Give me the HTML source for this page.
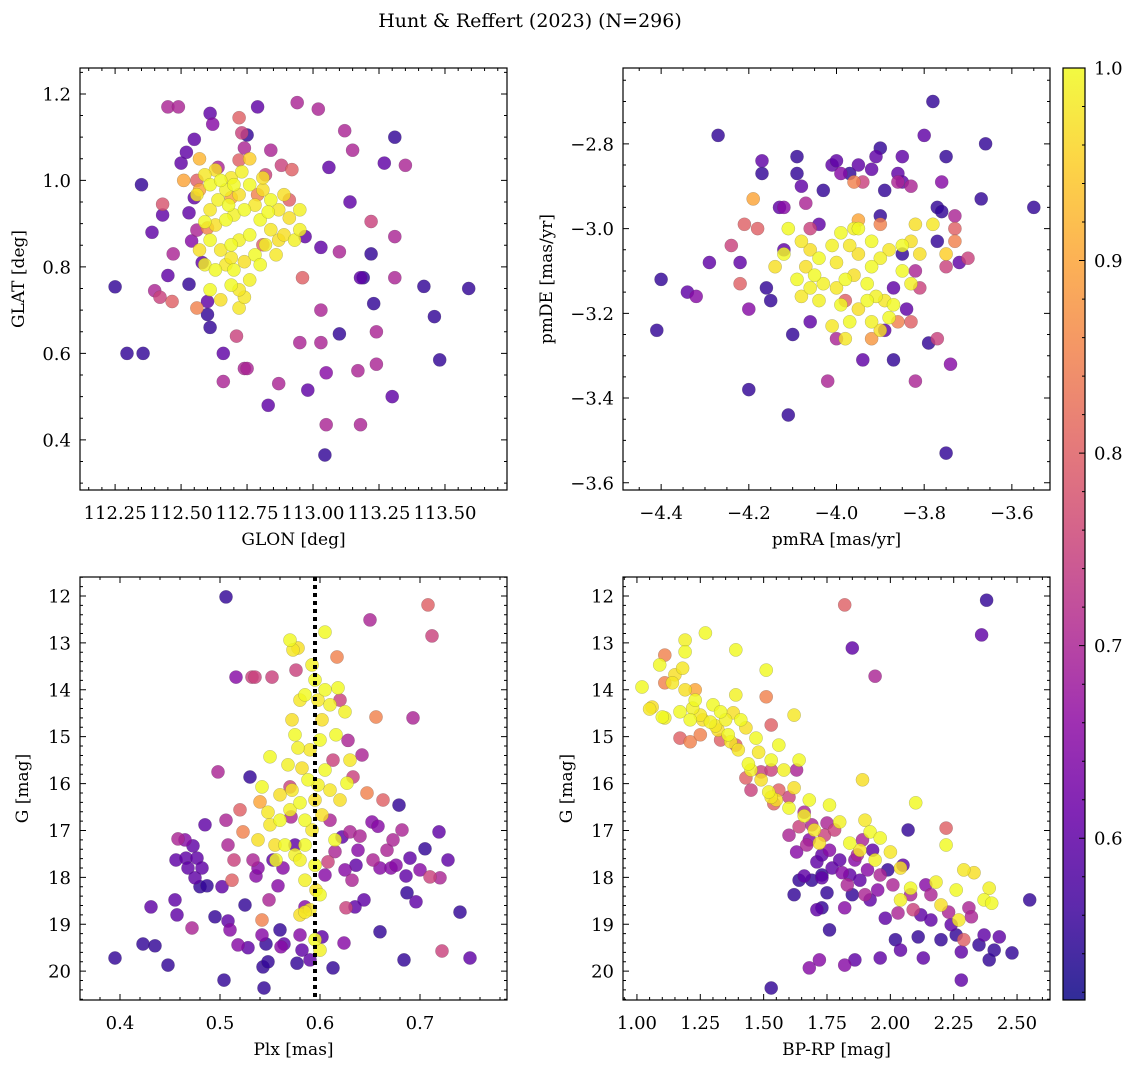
<!DOCTYPE html>
<html><head><meta charset="utf-8">
<style>
html,body{margin:0;padding:0;background:#fff;}
svg{display:block;font-family:"DejaVu Serif","Liberation Serif",serif;}
</style></head>
<body>
<svg id="fig" width="1136" height="1067" viewBox="0 0 1136 1067" xmlns="http://www.w3.org/2000/svg">
<defs>
<linearGradient id="plasmaGrad" x1="0" y1="1" x2="0" y2="0">
<stop offset="0" stop-color="#0d0887"/><stop offset="0.1" stop-color="#41049d"/><stop offset="0.2" stop-color="#6a00a8"/><stop offset="0.3" stop-color="#8f0da4"/><stop offset="0.4" stop-color="#b12a90"/><stop offset="0.5" stop-color="#cc4778"/><stop offset="0.6" stop-color="#e16462"/><stop offset="0.7" stop-color="#f2844b"/><stop offset="0.8" stop-color="#fca636"/><stop offset="0.9" stop-color="#fcce25"/><stop offset="1" stop-color="#f0f921"/>
</linearGradient>
</defs>
<text x="530" y="27" font-size="19" text-anchor="middle">Hunt &amp; Reffert (2023) (N=296)</text>
<g id="layer"></g>
</svg>
<script>
// ---- data ----
const skyPoints = [
[112.25,0.754,.55],[112.295,0.60,.55],[112.356,0.60,.55],[112.35,0.99,.55],[112.39,0.88,.6],[112.40,0.745,.7],[112.42,0.73,.75],[112.43,0.945,.78],[112.43,0.92,.6],[112.45,1.17,.7],[112.49,1.17,.7],[112.466,0.72,.8],[112.45,0.78,.6],[112.47,0.83,.7],[112.50,1.04,.6],[112.52,1.065,.6],[112.53,0.925,.6],[112.53,0.76,.55],[112.54,0.86,.65],[112.56,0.885,.7],[112.57,1.05,.92],[112.55,0.96,.6],[112.51,1.0,.9],[112.55,1.095,.6],[112.56,1.0,.8],[112.56,0.705,.85],[112.58,0.81,.6],[112.60,0.72,.6],[112.60,0.69,.55],[112.61,0.66,.55],[112.61,1.155,.6],[112.62,1.13,.65],[112.66,0.60,.6],[112.66,0.535,.7],[112.64,1.03,.7],[112.69,0.96,.9],[112.71,0.64,.75],[112.72,1.145,.8],[112.73,1.11,.75],[112.74,1.075,.7],[112.75,1.105,.55],[112.76,1.05,.95],[112.72,0.705,.98],[112.74,0.73,.98],[112.74,0.565,.7],[112.75,0.565,.7],[112.79,1.17,.6],[112.83,0.48,.6],[112.87,0.53,.7],[112.84,1.07,.7],[112.88,1.035,.75],[112.92,1.025,.8],[112.94,1.18,.7],[112.96,0.775,.8],[112.97,0.87,.6],[112.98,0.515,.6],[112.95,0.625,.7],[113.02,1.165,.7],[113.03,0.625,.7],[113.03,0.70,.7],[113.05,0.435,.7],[113.045,0.365,.55],[113.03,0.845,.6],[113.05,0.555,.65],[113.06,1.03,.6],[113.10,0.645,.55],[113.10,0.835,.7],[113.12,1.115,.7],[113.14,0.95,.6],[113.15,1.07,.7],[113.17,0.56,.7],[113.18,0.435,.7],[113.18,0.775,.6],[113.19,0.775,.55],[113.22,0.905,.75],[113.23,0.715,.55],[113.24,0.65,.7],[113.24,0.575,.7],[113.22,0.83,.55],[113.27,1.04,.6],[113.30,0.50,.6],[113.31,1.10,.55],[113.31,0.87,.7],[113.31,0.775,.7],[113.35,1.035,.7],[113.42,0.755,.55],[113.46,0.685,.55],[113.48,0.585,.55],[113.59,0.75,.55],
[112.57,0.978,.9],[112.60,0.89,.85],[112.79,0.967,.85],[112.81,0.851,.8],[112.91,0.955,.8],[112.82,1.013,.75],[112.72,1.047,.8],
[112.59,1.013,.98],[112.61,0.99,1],[112.63,1.024,.97],[112.65,1.0,1],[112.67,0.978,.99],[112.69,1.006,.98],[112.70,0.99,1],[112.72,0.967,.97],[112.68,0.943,1],[112.64,0.955,.99],[112.61,0.932,.98],[112.59,0.904,1],[112.63,0.897,.97],[112.67,0.909,1],[112.70,0.92,.99],[112.74,0.932,1],[112.78,0.943,.98],[112.81,0.978,.97],[112.84,0.955,1],[112.87,0.932,.98],[112.91,0.913,.97],[112.95,0.932,.99],[112.80,0.909,1],[112.84,0.886,.98],[112.87,0.862,.97],[112.76,0.874,1],[112.72,0.862,.99],[112.69,0.851,1],[112.65,0.839,.98],[112.61,0.862,1],[112.57,0.839,.97],[112.59,0.805,.99],[112.63,0.793,1],[112.67,0.805,.98],[112.70,0.793,1],[112.74,0.812,.97],[112.78,0.828,1],[112.82,0.851,.99],[112.86,0.828,.98],[112.89,0.874,.97],[112.93,0.862,.99],[112.69,0.758,1],[112.72,0.747,.98],[112.65,0.724,.97],[112.61,0.747,1],[112.76,0.77,.99],[112.80,0.805,1],[112.69,0.821,.98],[112.81,1.006,.97],[112.76,0.99,1],[112.73,1.02,.99],[112.56,0.967,.98],[112.83,0.927,1],[112.89,0.967,.97],[112.95,0.886,.99]
];
const pmPoints = [
[-4.27,-2.78,.55],[-4.40,-3.12,.55],[-4.41,-3.24,.55],[-4.34,-3.15,.6],[-4.32,-3.16,.65],[-4.29,-3.08,.6],[-4.24,-3.04,.75],[-4.22,-3.08,.6],[-4.22,-3.13,.8],[-4.21,-2.99,.8],[-4.20,-3.19,.65],[-4.19,-2.93,.9],[-4.18,-3.0,.8],[-4.17,-2.84,.6],[-4.17,-2.87,.55],[-4.16,-3.14,.55],[-4.15,-3.17,.55],[-4.13,-2.95,.6],[-4.12,-3.05,.6],[-4.12,-2.95,.65],[-4.20,-3.38,.55],[-4.10,-3.25,.55],[-4.11,-3.44,.55],[-4.09,-2.87,.55],[-4.09,-2.83,.55],[-4.08,-2.90,.6],[-4.07,-2.94,.7],[-4.06,-3.22,.6],[-4.06,-3.0,.75],[-4.04,-2.99,.6],[-4.03,-2.91,.55],[-4.02,-3.36,.7],[-4.01,-2.85,.6],[-4.00,-2.84,.6],[-3.99,-2.87,.65],[-4.0,-3.26,.7],[-3.97,-2.87,.55],[-3.96,-2.89,.85],[-3.95,-2.85,.6],[-3.94,-2.89,.75],[-3.94,-3.31,.6],[-3.92,-2.86,.6],[-3.91,-2.83,.6],[-3.90,-2.81,.55],[-3.90,-2.97,.55],[-3.89,-2.91,.55],[-3.89,-3.24,.6],[-3.87,-3.14,.6],[-3.87,-3.31,.55],[-3.86,-2.87,.6],[-3.86,-2.89,.7],[-3.85,-2.83,.6],[-3.85,-2.89,.6],[-3.85,-3.06,.55],[-3.84,-3.19,.6],[-3.83,-2.90,.7],[-3.82,-3.10,.7],[-3.82,-3.36,.7],[-3.81,-3.14,.75],[-3.80,-2.78,.6],[-3.79,-3.27,.55],[-3.78,-2.70,.55],[-3.77,-2.95,.55],[-3.77,-3.03,.55],[-3.77,-3.26,.75],[-3.76,-2.89,.65],[-3.76,-2.96,.55],[-3.75,-2.83,.55],[-3.75,-3.06,.95],[-3.75,-3.53,.55],[-3.75,-3.09,.75],[-3.74,-3.32,.65],[-3.73,-2.97,.7],[-3.73,-3.0,.8],[-3.72,-3.08,.6],[-3.70,-3.07,.75],[-3.66,-2.80,.55],[-3.67,-2.93,.55],[-3.55,-2.95,.55],[-3.73,-3.03,.85],
[-3.95,-2.98,.9],[-3.90,-2.99,.85],[-3.98,-3.17,.8],[-3.86,-3.22,.85],[-3.83,-3.22,.8],[-3.92,-3.26,.88],
[-4.11,-3.0,1],[-4.08,-3.03,.98],[-4.06,-3.05,.97],[-4.04,-3.07,1],[-4.01,-3.04,.99],[-3.99,-3.01,1],[-3.97,-3.04,.98],[-3.95,-3.06,.97],[-3.92,-3.09,1],[-3.90,-3.07,.99],[-3.88,-3.05,.98],[-3.85,-3.04,1],[-3.83,-3.03,.97],[-4.05,-3.11,1],[-4.03,-3.13,.99],[-4.0,-3.14,.98],[-3.98,-3.12,1],[-3.96,-3.11,.97],[-3.93,-3.13,1],[-3.91,-3.16,.99],[-3.89,-3.17,.98],[-3.87,-3.18,1],[-4.07,-3.09,.97],[-4.09,-3.12,1],[-4.08,-3.16,.98],[-4.04,-3.17,.99],[-3.99,-3.18,1],[-3.95,-3.19,.97],[-3.97,-3.22,1],[-4.01,-3.23,.98],[-3.92,-3.22,.99],[-3.90,-3.24,.97],[-3.88,-3.21,1],[-3.98,-3.26,.98],[-4.14,-3.09,.97],[-4.12,-3.06,1],[-3.96,-3.0,.99],[-3.92,-3.03,1],[-4.0,-3.08,.98],[-3.95,-3.0,1],[-4.06,-3.14,.99],[-3.93,-3.17,1],[-3.78,-2.99,.98],[-3.81,-3.06,.97],[-3.85,-3.10,1],[-3.83,-3.13,.99],[-3.82,-2.99,.97]
];
const plxPoints = [
[0.395,19.72,.55],[0.423,19.42,.55],[0.435,19.46,.55],[0.431,18.63,.6],[0.448,19.87,.55],[0.456,17.63,.6],[0.455,18.48,.6],[0.457,18.8,.6],[0.458,17.18,.7],[0.465,17.2,.65],[0.466,17.59,.6],[0.468,17.8,.6],[0.472,19.08,.7],[0.475,18.01,.6],[0.473,17.33,.6],[0.477,17.59,.6],[0.48,18.2,.55],[0.482,17.8,.6],[0.487,18.18,.55],[0.485,16.88,.6],[0.495,18.84,.55],[0.498,15.75,.7],[0.502,18.2,.6],[0.506,16.78,.7],[0.508,17.31,.7],[0.506,12.02,.55],[0.504,20.19,.55],[0.508,18.93,.6],[0.51,19.12,.65],[0.512,18.06,.8],[0.514,17.63,.75],[0.516,13.73,.65],[0.518,19.44,.65],[0.52,16.56,.8],[0.523,17.03,.85],[0.525,18.59,.55],[0.528,19.5,.6],[0.53,15.86,.55],[0.532,13.73,.75],[0.535,13.73,.75],[0.533,17.63,.7],[0.536,17.97,.65],[0.538,17.8,.65],[0.54,16.39,.9],[0.542,18.91,.85],[0.542,19.23,.65],[0.543,19.91,.55],[0.544,20.36,.55],[0.546,19.42,.55],[0.548,19.8,.55],[0.549,18.48,.7],[0.552,13.73,.75],[0.553,17.63,.6],[0.558,18.18,.65],[0.56,19.12,.55],[0.561,19.48,.65],[0.564,19.42,.6],[0.563,17.8,.65],[0.57,16.07,.75],[0.571,16.71,.7],[0.575,17.31,.6],[0.577,19.83,.55],[0.58,19.23,.65],[0.582,19.55,.6],[0.585,18.63,.65],[0.576,13.58,.75],[0.59,19.76,.6],[0.602,19.27,.6],[0.605,17.95,.65],[0.608,17.67,.75],[0.61,16.78,.7],[0.613,19.93,.55],[0.613,15.5,.75],[0.615,17.45,.7],[0.617,13.3,.85],[0.62,14.22,.75],[0.622,17.14,.6],[0.624,19.4,.65],[0.625,17.84,.65],[0.626,18.65,.75],[0.628,15.08,.7],[0.63,17.03,.7],[0.632,18.06,.7],[0.635,18.63,.6],[0.633,15.86,.75],[0.636,17.74,.6],[0.638,17.42,.65],[0.64,17.12,.7],[0.642,15.39,.7],[0.644,18.48,.6],[0.647,16.2,.85],[0.65,12.51,.7],[0.652,16.82,.65],[0.653,17.63,.7],[0.656,14.58,.85],[0.658,16.91,.65],[0.66,17.8,.65],[0.66,19.16,.55],[0.663,16.35,.8],[0.667,17.42,.7],[0.671,17.8,.65],[0.673,17.2,.7],[0.676,17.74,.65],[0.679,16.46,.55],[0.682,16.99,.7],[0.684,19.76,.55],[0.686,17.97,.6],[0.687,18.33,.55],[0.69,17.59,.6],[0.693,14.6,.7],[0.696,18.52,.6],[0.7,17.84,.65],[0.705,17.39,.55],[0.708,12.19,.8],[0.712,12.85,.75],[0.71,17.99,.75],[0.72,18.01,.7],[0.722,19.57,.75],[0.728,17.63,.6],[0.74,18.74,.55],[0.75,19.72,.6],[0.719,17.03,.6],
[0.57,12.94,1],[0.573,13.15,.98],[0.578,13.11,.97],[0.605,12.77,1],[0.592,13.47,.99],[0.585,14.11,1],[0.58,14.22,.98],[0.572,14.64,.97],[0.575,14.96,1],[0.578,15.24,.99],[0.595,13.79,1],[0.598,14.22,.98],[0.602,14.64,.97],[0.605,14.0,1],[0.61,14.32,.99],[0.60,15.07,1],[0.59,15.28,.98],[0.582,15.67,.97],[0.588,15.92,1],[0.598,16.03,.99],[0.605,15.71,1],[0.61,16.14,.98],[0.595,16.35,.97],[0.58,16.41,1],[0.57,16.56,.99],[0.56,16.78,1],[0.55,16.88,.98],[0.555,17.31,.97],[0.565,17.31,1],[0.575,17.52,.99],[0.585,17.31,1],[0.592,16.99,.98],[0.602,16.67,.97],[0.595,17.74,1],[0.585,18.06,.99],[0.60,18.37,1],[0.59,18.69,.98],[0.58,18.8,.97],[0.595,19.33,1],[0.60,19.55,.99],[0.542,16.07,1],[0.548,16.61,.98],[0.538,17.2,.97],[0.618,13.96,1],[0.625,14.47,.99],[0.616,14.96,1],[0.63,15.5,.98],[0.62,16.35,.97],[0.627,15.99,1],[0.568,15.6,.99],[0.55,15.43,1],[0.572,16.14,.98],[0.56,16.24,.97],[0.585,16.78,1],[0.58,17.63,.99],[0.556,17.63,1],[0.585,18.74,.98],[0.596,18.27,.97],[0.615,17.2,1]
];
const cmdPoints = [
[1.02,13.94,1],[1.05,14.41,.98],[1.06,14.37,.97],[1.10,14.58,1],[1.11,14.6,.99],[1.09,13.47,1],[1.14,13.85,.98],[1.15,13.68,.97],[1.17,14.47,1],[1.19,12.94,.99],[1.19,13.19,1],[1.18,13.54,.98],[1.19,14.0,.97],[1.21,14.64,1],[1.22,14.39,.99],[1.23,14.22,1],[1.25,14.54,.98],[1.26,14.64,.97],[1.27,12.79,1],[1.29,14.69,.99],[1.30,14.32,1],[1.31,14.77,.98],[1.32,14.86,.97],[1.33,14.47,1],[1.35,14.64,.99],[1.36,14.96,1],[1.37,15.11,.98],[1.38,14.49,.97],[1.39,13.15,1],[1.39,14.11,.99],[1.41,14.64,1],[1.40,15.28,.98],[1.43,14.81,.97],[1.44,15.58,1],[1.45,15.71,.99],[1.47,15.03,1],[1.48,15.33,.98],[1.49,15.92,.97],[1.51,13.58,1],[1.52,16.18,.99],[1.53,15.5,1],[1.53,16.29,.98],[1.55,16.35,.97],[1.56,15.18,1],[1.58,15.71,.99],[1.60,16.52,1],[1.62,14.54,.98],[1.62,16.09,.97],[1.64,15.5,1],[1.66,16.69,.99],[1.68,16.35,1],[1.70,16.99,.98],[1.72,17.27,.97],[1.76,16.46,1],[1.80,16.82,.99],[1.84,17.27,1],[1.88,17.42,.98],[1.89,15.92,.97],[1.92,17.03,1],[1.94,17.63,.99],[1.96,17.16,1],[2.00,17.46,.98],[2.04,17.8,.97],[2.10,16.41,1],[2.18,18.1,.99],[2.22,17.31,1],[2.29,17.84,.98],[2.33,17.9,.97],[2.37,18.48,1],[2.39,18.23,.99],[2.40,18.55,1],[2.27,18.91,.98],[2.20,18.59,.97],[2.26,18.27,1],[2.04,18.48,.99],[2.08,18.23,1],[1.90,16.78,.98],
[1.11,13.26,.85],[1.11,13.85,.85],[1.21,15.11,.85],[1.17,15.03,.8],[1.23,14.0,.9],[1.25,14.96,.85],[1.33,15.07,.8],[1.39,15.18,.8],[1.43,15.88,.8],[1.45,16.14,.75],[1.49,15.75,.75],[1.51,14.15,.85],[1.53,14.75,.8],[1.54,16.43,.8],[1.56,16.14,.8],[1.60,16.29,.75],[1.63,15.71,.7],[1.64,16.92,.75],[1.66,16.61,.7],[1.67,17.31,.7],[1.68,17.2,.65],[1.69,16.88,.7],[1.71,17.67,.6],[1.73,17.52,.6],[1.73,18.01,.6],[1.74,17.1,.75],[1.75,16.84,.7],[1.76,17.42,.65],[1.77,17.8,.6],[1.78,16.99,.75],[1.80,17.63,.6],[1.81,17.9,.65],[1.83,18.16,.7],[1.84,17.95,.6],[1.85,18.37,.55],[1.86,17.63,.65],[1.87,17.52,.7],[1.88,18.06,.6],[1.89,17.2,.7],[1.90,18.37,.7],[1.91,17.84,.65],[1.92,18.48,.6],[1.93,17.42,.6],[1.95,18.27,.65],[1.96,17.95,.7],[1.98,18.87,.6],[1.99,17.84,.55],[2.01,18.16,.7],[2.02,19.33,.55],[2.03,18.76,.7],[2.04,19.55,.6],[2.05,17.74,.6],[2.07,16.99,.55],[2.08,18.37,.7],[2.09,18.69,.75],[2.11,19.27,.55],[2.12,18.8,.6],[2.13,19.72,.6],[2.14,18.16,.65],[2.16,18.91,.6],[2.16,18.37,.7],[2.20,19.33,.55],[2.22,16.95,.8],[2.23,18.74,.7],[2.24,19.01,.6],[2.26,19.23,.55],[2.28,19.59,.6],[2.28,20.19,.6],[2.29,19.33,.8],[2.31,18.65,.7],[2.32,18.84,.7],[2.35,19.44,.55],[2.37,19.23,.6],[2.39,19.76,.55],[2.41,19.55,.55],[2.43,19.27,.6],[2.48,19.61,.55],[2.55,18.48,.55],[2.36,12.83,.6],[2.38,12.09,.55],[1.85,13.11,.6],[1.94,13.71,.7],[1.82,12.19,.8],[1.73,17.95,.55],[1.73,18.65,.55],[1.82,18.65,.65],[1.86,19.76,.6],[1.96,19.72,.6],[1.76,19.12,.55],[1.82,19.87,.65],[1.71,18.69,.6],[1.68,19.93,.65],[1.53,20.36,.55],[1.69,18.06,.55],[1.75,18.33,.55],[1.63,17.46,.65],[1.66,17.97,.6],[1.60,17.1,.7],[1.53,15.71,.75],[1.64,18.06,.55],[1.72,19.76,.65],[1.62,18.37,.55]
];
const plxRef = 0.595;
const xTicks1 = [112.25,112.50,112.75,113.00,113.25,113.50];
const xLabels1 = ["112.25","112.50","112.75","113.00","113.25","113.50"];
const yTicks1 = [0.4,0.6,0.8,1.0,1.2];
const yLabels1 = ["0.4","0.6","0.8","1.0","1.2"];
const xTicks2 = [-4.4,-4.2,-4.0,-3.8,-3.6];
const xLabels2 = ["\u22124.4","\u22124.2","\u22124.0","\u22123.8","\u22123.6"];
const yTicks2 = [-2.8,-3.0,-3.2,-3.4,-3.6];
const yLabels2 = ["\u22122.8","\u22123.0","\u22123.2","\u22123.4","\u22123.6"];
const xTicks3 = [0.4,0.5,0.6,0.7];
const xLabels3 = ["0.4","0.5","0.6","0.7"];
const gTicks = [12,13,14,15,16,17,18,19,20];
const gLabels = ["12","13","14","15","16","17","18","19","20"];
const xTicks4 = [1.00,1.25,1.50,1.75,2.00,2.25,2.50];
const xLabels4 = ["1.00","1.25","1.50","1.75","2.00","2.25","2.50"];
const cbTicks = [0.6,0.7,0.8,0.9,1.0];
const cbLabels = ["0.6","0.7","0.8","0.9","1.0"];

// ---- rendering ----
const NS = "http://www.w3.org/2000/svg";
const layer = document.getElementById("layer");
const cmin = 0.516, cmax = 1.0;
const TF = 18;
const stops = ["#0d0887","#41049d","#6a00a8","#8f0da4","#b12a90","#cc4778","#e16462","#f2844b","#fca636","#fcce25","#f0f921"];
function hex(h){return [parseInt(h.substr(1,2),16),parseInt(h.substr(3,2),16),parseInt(h.substr(5,2),16)];}
function plasma(v){
  let t=(v-cmin)/(cmax-cmin); t=Math.max(0,Math.min(1,t));
  const s=t*10, i=Math.min(9,Math.floor(s)), f=s-i;
  const a=hex(stops[i]), b=hex(stops[i+1]);
  return "rgb("+a.map((x,k)=>Math.round(x+(b[k]-x)*f)).join(",")+")";
}
function mk(tag, attrs, parent){
  const e=document.createElementNS(NS,tag);
  for(const k in attrs) e.setAttribute(k,attrs[k]);
  (parent||layer).appendChild(e); return e;
}
function panel(cfg){
  const g=mk("g",{});
  
  
  const {x0,x1,y0,y1,xmin,xmax,ymin,ymax}=cfg;
  const sx=v=>x0+(v-xmin)/(xmax-xmin)*(x1-x0);
  const sy=cfg.invertY ? (v=>y0+(v-ymin)/(ymax-ymin)*(y1-y0)) : (v=>y1-(v-ymin)/(ymax-ymin)*(y1-y0));
  const pts=cfg.points.slice().sort((a,b)=>a[2]-b[2]);
  const pg=mk("g",{},g);
  
  
  pts.forEach(p=>{
    const c=mk("circle",{cx:sx(p[0]).toFixed(1),cy:sy(p[1]).toFixed(1),r:6.6,fill:plasma(p[2]),"fill-opacity":0.82,stroke:"#444","stroke-opacity":0.35,"stroke-width":0.5},pg);
    
    
  });
  if(cfg.vline!==undefined){
    const l=mk("line",{x1:sx(cfg.vline),x2:sx(cfg.vline),y1:y0,y2:y1,stroke:"#000","stroke-width":4,"stroke-dasharray":"4,4"},g);
    
    
  }
  const fr=mk("rect",{x:x0,y:y0,width:x1-x0,height:y1-y0,fill:"none",stroke:"#000","stroke-width":1.2},g);
  
  
  let tp="";
  const eps=1e-9;
  for(let v=Math.ceil(xmin/cfg.xminor-eps)*cfg.xminor; v<=xmax+eps; v+=cfg.xminor){
    const X=sx(v); tp+=`M${X},${y1}v-3M${X},${y0}v3`;
  }
  for(let v=Math.ceil(ymin/cfg.yminor-eps)*cfg.yminor; v<=ymax+eps; v+=cfg.yminor){
    const Y=sy(v); tp+=`M${x0},${Y}h3M${x1},${Y}h-3`;
  }
  cfg.xticks.forEach(v=>{const X=sx(v); tp+=`M${X},${y1}v-6M${X},${y0}v6`;});
  cfg.yticks.forEach(v=>{const Y=sy(v); tp+=`M${x0},${Y}h6M${x1},${Y}h-6`;});
  const tk=mk("path",{d:tp,stroke:"#000","stroke-width":1,fill:"none"},g);
  
  
  cfg.xticks.forEach((v,i)=>{
    const t=mk("text",{x:sx(v),y:y1+29,"font-size":TF,"text-anchor":"middle"},g);
    t.textContent=cfg.xlabels[i];
    
    
  });
  cfg.yticks.forEach((v,i)=>{
    const t=mk("text",{x:x0-9,y:sy(v)+6.5,"font-size":TF,"text-anchor":"end"},g);
    t.textContent=cfg.ylabels[i];
    
    
  });
  const xt=mk("text",{x:(x0+x1)/2,y:y1+55,"font-size":17,"text-anchor":"middle"},g);
  xt.textContent=cfg.xtitle;
  
  
  const yx=cfg.ytitleX, yy=(y0+y1)/2;
  const yt=mk("text",{x:yx,y:yy,"font-size":17,"text-anchor":"middle",transform:`rotate(-90 ${yx} ${yy})`},g);
  yt.textContent=cfg.ytitle;
  
  
}
panel({name:"sky-panel",points:skyPoints,x0:80,x1:507,y0:68,y1:490,xmin:112.117,xmax:113.735,ymin:0.284,ymax:1.26,xticks:xTicks1,xlabels:xLabels1,yticks:yTicks1,ylabels:yLabels1,xminor:0.05,yminor:0.05,xtitle:"GLON [deg]",ytitle:"GLAT [deg]",ytitleX:24});
panel({name:"proper-motion-panel",points:pmPoints,x0:623,x1:1050,y0:68,y1:490,xmin:-4.487,xmax:-3.513,ymin:-3.617,ymax:-2.621,xticks:xTicks2,xlabels:xLabels2,yticks:yTicks2,ylabels:yLabels2,xminor:0.05,yminor:0.05,xtitle:"pmRA [mas/yr]",ytitle:"pmDE [mas/yr]",ytitleX:552});
panel({name:"parallax-panel",points:plxPoints,vline:plxRef,x0:80,x1:507,y0:577,y1:1000,xmin:0.36,xmax:0.787,ymin:11.595,ymax:20.615,invertY:true,xticks:xTicks3,xlabels:xLabels3,yticks:gTicks,ylabels:gLabels,xminor:0.02,yminor:0.2,xtitle:"Plx [mas]",ytitle:"G [mag]",ytitleX:28});
panel({name:"cmd-panel",points:cmdPoints,x0:623,x1:1050,y0:577,y1:1000,xmin:0.945,xmax:2.63,ymin:11.595,ymax:20.615,invertY:true,xticks:xTicks4,xlabels:xLabels4,yticks:gTicks,ylabels:gLabels,xminor:0.05,yminor:0.2,xtitle:"BP-RP [mag]",ytitle:"G [mag]",ytitleX:572});

(function(){
  const g=mk("g",{});
  
  
  const x0=1063,x1=1085,y0=68,y1=1000;
  const sy=v=>y1-(v-cmin)/(cmax-cmin)*(y1-y0);
  const r=mk("rect",{x:x0,y:y0,width:x1-x0,height:y1-y0,fill:"url(#plasmaGrad)","fill-opacity":0.85,stroke:"#000","stroke-width":1.2},g);
  
  
  let d="";
  for(let v=0.52; v<=1.0001; v+=0.02){ d+=`M${x1},${sy(v)}h-3`; }
  cbTicks.forEach(v=>{ d+=`M${x1},${sy(v)}h-6`; });
  mk("path",{d:d,stroke:"#000","stroke-width":1,fill:"none"},g);
  cbTicks.forEach((v,i)=>{
    const t=mk("text",{x:x1+9,y:sy(v)+6.5,"font-size":TF},g);
    t.textContent=cbLabels[i];
    
    
  });
})();
</script>
</body></html>
